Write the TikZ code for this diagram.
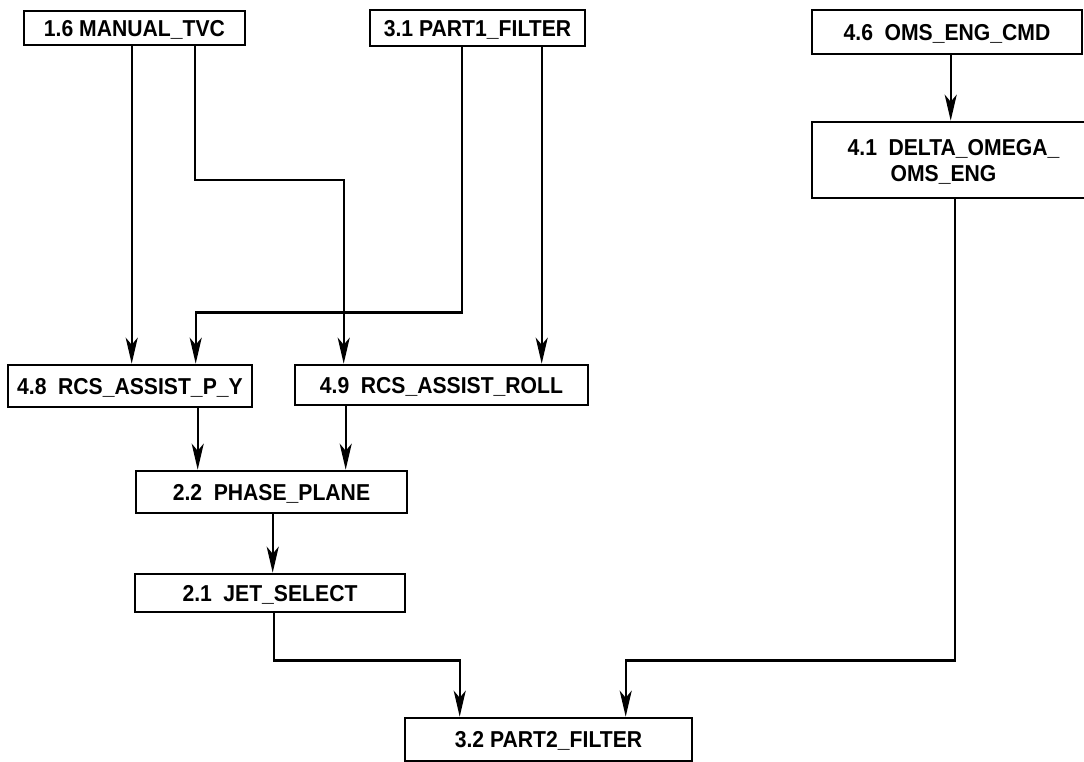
\documentclass[tikz,border=0pt]{standalone}
\usepackage{fontspec}
\setmainfont{Liberation Sans}[FakeStretch=0.92]
\usetikzlibrary{arrows.meta}
\newcommand{\gap}{\hspace{0.5em}}
\begin{document}
\begin{tikzpicture}[x=1pt,y=-1pt,
  blk/.style={draw, line width=2.6pt, inner sep=0pt, font=\fontsize{23}{27}\selectfont\bfseries, text depth=0pt},
  arr/.style={line width=2.4pt, -{Stealth[length=26pt,width=12pt,inset=7pt]}}]
\useasboundingbox (0,0) rectangle (1084,762);
\fill[white] (0,0) rectangle (1084,762);
% boxes
\node[blk, minimum width=221pt, minimum height=34pt] (m16) at (134.5,28) {1.6 MANUAL\_TVC};
\node[blk, minimum width=215pt, minimum height=36pt] (p31) at (477.5,28) {3.1 PART1\_FILTER};
\node[blk, minimum width=270pt, minimum height=44pt] (o46) at (947,32) {4.6\gap OMS\_ENG\_CMD};
\node[blk, minimum width=283pt, minimum height=76pt, align=left] (d41) at (953.5,160) {4.1\gap DELTA\_OMEGA\_\\[-1pt]\hspace*{43pt}OMS\_ENG};
\node[blk, minimum width=244pt, minimum height=42pt] (r48) at (130,386) {4.8\gap RCS\_ASSIST\_P\_Y};
\node[blk, minimum width=293pt, minimum height=40pt] (r49) at (441.5,385) {4.9\gap RCS\_ASSIST\_ROLL};
\node[blk, minimum width=271pt, minimum height=42pt] (p22) at (271.5,492) {2.2\gap PHASE\_PLANE};
\node[blk, minimum width=270pt, minimum height=38pt] (j21) at (270,593) {2.1\gap JET\_SELECT};
\node[blk, minimum width=287pt, minimum height=43pt] (p32) at (548.5,739.5) {3.2 PART2\_FILTER};
% connectors
\draw[arr] ([xshift=109pt]m16.south west) -- ([xshift=125pt]r48.north west);
\draw[arr] ([xshift=172pt]m16.south west) -- ++(0,134) -| ([xshift=50pt]r49.north west);
\draw[arr] ([xshift=93pt]p31.south west) -- ++(0,265) -| ([xshift=189pt]r48.north west);
\draw[arr] ([xshift=173pt]p31.south west) -- ([xshift=248pt]r49.north west);
\draw[arr] ([xshift=140pt]o46.south west) -- ([xshift=140pt]d41.north west);
\draw[arr] ([xshift=191pt]r48.south west) -- ([xshift=63pt]p22.north west);
\draw[arr] ([xshift=52pt]r49.south west) -- ([xshift=211pt]p22.north west);
\draw[arr] ([xshift=138pt]p22.south west) -- ([xshift=139pt]j21.north west);
\draw[arr] ([xshift=140pt]j21.south west) -- ++(0,47) -| ([xshift=56pt]p32.north west);
\draw[arr] ([xshift=144pt]d41.south west) -- ++(0,461) -| ([xshift=222pt]p32.north west);
\end{tikzpicture}
\end{document}
